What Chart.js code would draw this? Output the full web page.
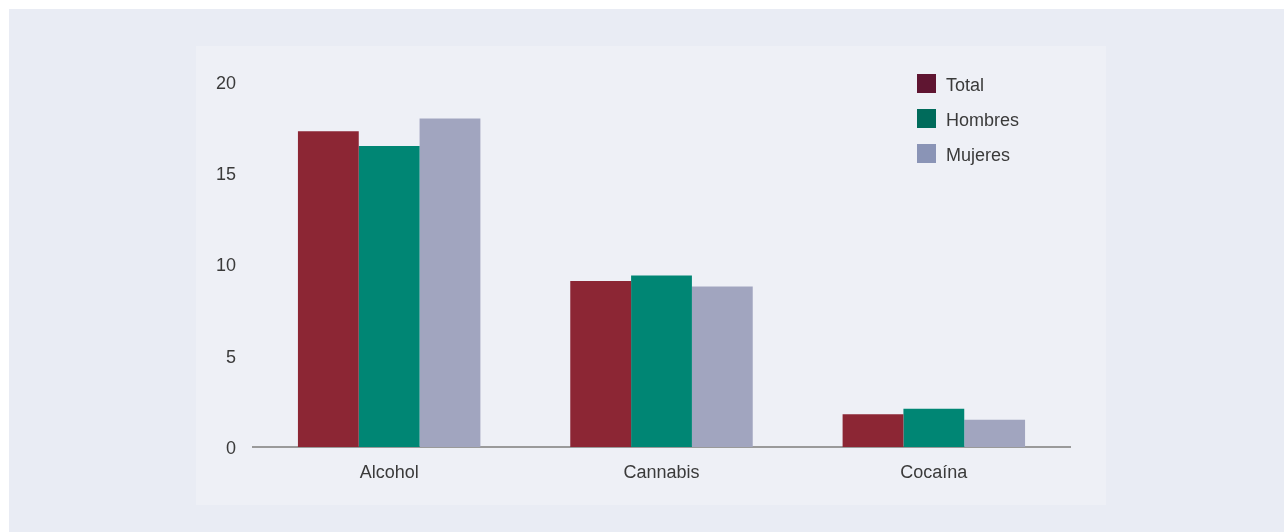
<!DOCTYPE html>
<html>
<head>
<meta charset="utf-8">
<script src="https://cdn.jsdelivr.net/npm/chart.js@4/dist/chart.umd.min.js"></script>
<style>
    html, body { margin: 0; padding: 0; background: #ffffff; }
    body { width: 1284px; height: 532px; position: relative; overflow: hidden; }
    #fondo { position: absolute; left: 9px; top: 9px; right: 0; bottom: 0; background: #e9ecf4; }
    #panel { position: absolute; left: 196px; top: 46px; width: 910px; height: 459px; background: #eef0f6; }
    #wrap { position: absolute; left: 0; top: 0; width: 1284px; height: 532px; }
</style>
</head>
<body>
<div id="fondo"></div>
<div id="panel"></div>
<div id="wrap"><canvas id="barras" width="1284" height="532"></canvas></div>
<script>
// Datos
const categorias = ['Alcohol', 'Cannabis', 'Cocaína'];
const series = ['Total', 'Hombres', 'Mujeres'];
const total = [17.3, 9.1, 1.8];
const hombres = [16.5, 9.4, 2.1];
const mujeres = [18.0, 8.8, 1.5];
const ticksY = [0, 5, 10, 15, 20];

const coloresBarra = ['#8c2634', '#008674', '#a1a5bf'];
const coloresLeyenda = ['#5f1531', '#006b5b', '#8a94b6'];

// Leyenda dibujada a mano dentro del área del gráfico
const leyenda = {
    id: 'leyenda',
    afterDraw(chart) {
        const ctx = chart.ctx;
        const x = chart.chartArea.left + 664;
        let y = 74;
        ctx.save();
        ctx.font = '18px "Liberation Sans", Arial, sans-serif';
        ctx.textBaseline = 'middle';
        series.forEach((nombre, i) => {
            ctx.fillStyle = coloresLeyenda[i];
            ctx.fillRect(x, y, 19, 19);
            ctx.fillStyle = '#3a3a3a';
            ctx.fillText(nombre, x + 29, y + 12.5);
            y += 35;
        });
        ctx.restore();
    }
};

new Chart(document.getElementById('barras'), {
    type: 'bar',
    data: {
        labels: categorias,
        datasets: [
            { label: series[0], data: total, backgroundColor: coloresBarra[0] },
            { label: series[1], data: hombres, backgroundColor: coloresBarra[1] },
            { label: series[2], data: mujeres, backgroundColor: coloresBarra[2] }
        ]
    },
    options: {
        responsive: false,
        animation: false,
        categoryPercentage: 0.67,
        barPercentage: 1.0,
        layout: {
            padding: { left: 196, right: 214, top: 82, bottom: 0 }
        },
        plugins: {
            legend: { display: false },
            tooltip: { enabled: false }
        },
        scales: {
            x: {
                grid: { display: false, drawTicks: false },
                border: { display: true, color: '#9a9a9a', width: 2 },
                ticks: {
                    color: '#3a3a3a',
                    padding: 15,
                    font: { family: '"Liberation Sans", Arial, sans-serif', size: 18 }
                },
                afterFit(scale) { scale.height = 85; }
            },
            y: {
                min: 0,
                max: 20,
                grid: { display: false, drawTicks: false },
                border: { display: false },
                afterBuildTicks(scale) { scale.ticks = ticksY.map(v => ({ value: v })); },
                ticks: {
                    color: '#3a3a3a',
                    padding: 17,
                    labelOffset: 2,
                    font: { family: '"Liberation Sans", Arial, sans-serif', size: 18 }
                },
                afterFit(scale) { scale.width = 57; }
            }
        }
    },
    plugins: [leyenda]
});
</script>
</body>
</html>
